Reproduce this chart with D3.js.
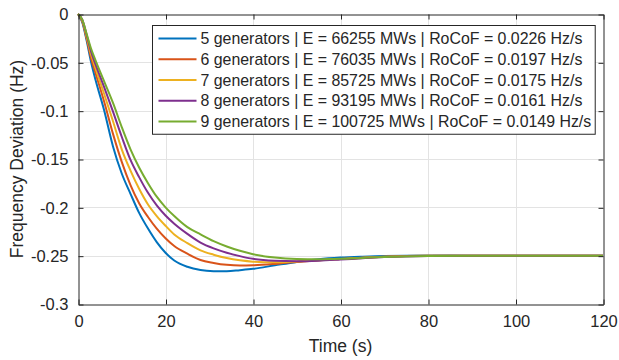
<!DOCTYPE html>
<html>

<head>
    <title>Frequency Deviation</title>
    <script src="https://d3js.org/d3.v7.min.js"></script>
    <style>
        body { margin: 0; background: white; }
        text { font-family: "Liberation Sans", Arial, Helvetica, sans-serif; fill: #262626; }
    </style>
</head>

<body>
    <div id="container"></div>
    <script>
        // DATA

        var timeS = [0, 1, 2, 3, 4, 6, 8, 10, 12, 14, 16, 18, 20, 22, 25, 28, 31, 34, 37, 40, 45, 50, 55, 60, 65, 70, 80, 90, 100, 120]
        var gen5 = [0, -0.009, -0.028, -0.05, -0.068, -0.1, -0.137, -0.165, -0.186, -0.206, -0.222, -0.236, -0.247, -0.255, -0.2615, -0.2648, -0.266, -0.2662, -0.265, -0.2636, -0.26, -0.2565, -0.2537, -0.252, -0.251, -0.2503, -0.2499, -0.25, -0.25, -0.25]
        var gen6 = [0, -0.008, -0.026, -0.046, -0.061, -0.091, -0.124, -0.153, -0.177, -0.196, -0.21, -0.222, -0.232, -0.24, -0.248, -0.2545, -0.2575, -0.2595, -0.2603, -0.26, -0.2585, -0.2565, -0.2548, -0.2535, -0.2522, -0.2512, -0.2502, -0.25, -0.25, -0.25]
        var gen7 = [0, -0.007, -0.024, -0.042, -0.056, -0.083, -0.111, -0.14, -0.162, -0.181, -0.197, -0.209, -0.219, -0.228, -0.237, -0.2445, -0.249, -0.2525, -0.2548, -0.2562, -0.2568, -0.256, -0.2548, -0.2535, -0.2522, -0.2512, -0.2502, -0.25, -0.25, -0.25]
        var gen8 = [0, -0.006, -0.022, -0.039, -0.052, -0.076, -0.101, -0.127, -0.151, -0.169, -0.185, -0.198, -0.2085, -0.217, -0.2275, -0.2365, -0.2425, -0.247, -0.2505, -0.2533, -0.2553, -0.2558, -0.2552, -0.254, -0.2527, -0.2515, -0.2503, -0.25, -0.25, -0.25]
        var gen9 = [0, -0.006, -0.021, -0.036, -0.048, -0.07, -0.092, -0.117, -0.14, -0.159, -0.175, -0.189, -0.2, -0.209, -0.2205, -0.228, -0.235, -0.2405, -0.245, -0.2485, -0.252, -0.2535, -0.2538, -0.2533, -0.2523, -0.2513, -0.2503, -0.25, -0.25, -0.25]

        var seriesNames = [
            "5 generators | E = 66255 MWs | RoCoF = 0.0226 Hz/s",
            "6 generators | E = 76035 MWs | RoCoF = 0.0197 Hz/s",
            "7 generators | E = 85725 MWs | RoCoF = 0.0175 Hz/s",
            "8 generators | E = 93195 MWs | RoCoF = 0.0161 Hz/s",
            "9 generators | E = 100725 MWs | RoCoF = 0.0149 Hz/s"
        ]
        var seriesValues = [gen5, gen6, gen7, gen8, gen9]
        var seriesColors = ["#0072BD", "#D95319", "#EDB120", "#7E2F8E", "#77AC30"]

        var xTicks = [0, 20, 40, 60, 80, 100, 120]
        var yTicks = [0, -0.05, -0.1, -0.15, -0.2, -0.25, -0.3]
        var yTickLabels = ["0", "-0.05", "-0.1", "-0.15", "-0.2", "-0.25", "-0.3"]

        // GENERAL SETUP

        var width = 619;
        var height = 360;
        var pLeft = 78, pRight = 603, pTop = 14, pBottom = 304;

        var svg = d3.select('#container').append('svg')
            .attr('width', width)
            .attr('height', height);

        var x = d3.scaleLinear().domain([0, 120]).range([pLeft, pRight]);
        var y = d3.scaleLinear().domain([-0.3, 0]).range([pBottom, pTop]);

        // GRID

        svg.append('g').selectAll('line').data(xTicks.slice(1, -1)).join('line')
            .attr('x1', d => Math.round(x(d)) + 0.5).attr('x2', d => Math.round(x(d)) + 0.5)
            .attr('y1', pTop).attr('y2', pBottom)
            .style('stroke', '#e3e3e3');
        svg.append('g').selectAll('line').data(yTicks.slice(1, -1)).join('line')
            .attr('y1', d => Math.round(y(d)) + 0.5).attr('y2', d => Math.round(y(d)) + 0.5)
            .attr('x1', pLeft).attr('x2', pRight)
            .style('stroke', '#e3e3e3');

        // LINES

        var line = d3.line()
            .x((d, i) => x(timeS[i]))
            .y(d => y(d))
            .curve(d3.curveMonotoneX);

        seriesValues.forEach(function (vals, i) {
            svg.append('path')
                .attr('d', line(vals))
                .style('fill', 'none')
                .style('stroke', seriesColors[i])
                .style('stroke-width', 2);
        });

        // AXES (box with inward ticks on all four sides)

        var tickSize = 5;
        var xAxisB = d3.axisBottom(x).tickValues(xTicks).tickSizeInner(-tickSize).tickSizeOuter(0).tickPadding(11);
        var xAxisT = d3.axisTop(x).tickValues(xTicks).tickSizeInner(-tickSize).tickSizeOuter(0).tickFormat('');
        var yAxisL = d3.axisLeft(y).tickValues(yTicks).tickSizeInner(-tickSize).tickSizeOuter(0).tickPadding(10)
            .tickFormat((d, i) => yTickLabels[i]);
        var yAxisR = d3.axisRight(y).tickValues(yTicks).tickSizeInner(-tickSize).tickSizeOuter(0).tickFormat('');

        function styleAxis(g) {
            g.select('.domain').style('stroke', '#262626');
            g.selectAll('.tick line').style('stroke', '#262626');
            g.selectAll('.tick text').style('fill', '#262626').style('font-size', '16.5px')
                .style('font-family', '"Liberation Sans", Arial, sans-serif');
        }

        svg.append('g').attr('transform', 'translate(0.5,' + (pBottom + 0.5) + ')').call(xAxisB).call(styleAxis);
        svg.append('g').attr('transform', 'translate(0.5,' + (pTop + 0.5) + ')').call(xAxisT).call(styleAxis);
        svg.append('g').attr('transform', 'translate(' + (pLeft + 0.5) + ',0.5)').call(yAxisL).call(styleAxis);
        svg.append('g').attr('transform', 'translate(' + (pRight + 0.5) + ',0.5)').call(yAxisR).call(styleAxis);

        // AXIS LABELS

        svg.append('text')
            .attr('x', (pLeft + pRight) / 2)
            .attr('y', 352)
            .attr('text-anchor', 'middle')
            .style('font-size', '17.5px')
            .text('Time (s)');

        svg.append('text')
            .attr('transform', 'translate(23,' + ((pTop + pBottom) / 2) + ') rotate(-90)')
            .attr('text-anchor', 'middle')
            .style('font-size', '17.5px')
            .text('Frequency Deviation (Hz)');

        // LEGEND

        var legX = 152.5, legY = 25.5, rowH = 20.75;
        var legend = svg.append('g');
        var legBox = legend.append('rect')
            .attr('x', legX).attr('y', legY)
            .attr('height', rowH * seriesNames.length + 5)
            .style('fill', 'white')
            .style('stroke', '#262626')
            .style('stroke-width', 1);

        var maxW = 0;
        seriesNames.forEach(function (name, i) {
            var cy = legY + 13 + i * rowH;
            legend.append('line')
                .attr('x1', legX + 6).attr('x2', legX + 44)
                .attr('y1', cy).attr('y2', cy)
                .style('stroke', seriesColors[i])
                .style('stroke-width', 2);
            var t = legend.append('text')
                .attr('x', legX + 48)
                .attr('y', cy + 5.5)
                .style('font-size', '15.9px')
                .text(name);
            maxW = Math.max(maxW, t.node().getComputedTextLength());
        });
        legBox.attr('width', 48 + maxW + 4);
    </script>
</body>

</html>
